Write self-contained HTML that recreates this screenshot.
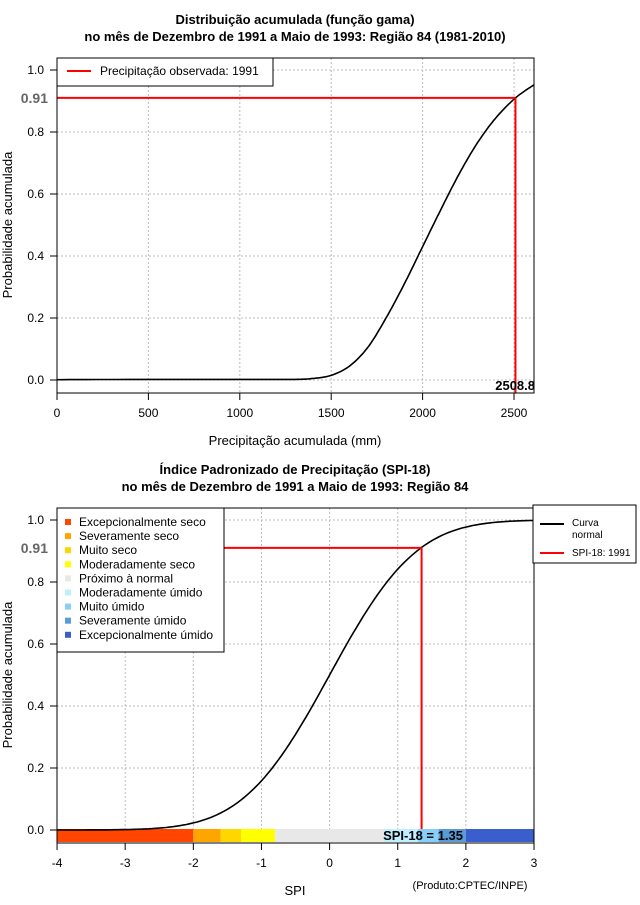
<!DOCTYPE html>
<html><head><meta charset="utf-8"><style>
body{margin:0;background:#fff}
svg text{font-family:"Liberation Sans",sans-serif;font-size:12px}
</style></head><body>
<svg id="s" width="640" height="900" xmlns="http://www.w3.org/2000/svg">
<rect width="640" height="900" fill="#fff"/>
<text x="295" y="24" text-anchor="middle" font-weight="bold" style="font-size:13px">Distribuição acumulada (função gama)</text>
<text x="295" y="41" text-anchor="middle" font-weight="bold" style="font-size:13px">no mês de Dezembro de 1991 a Maio de 1993: Região 84 (1981-2010)</text>
<text x="295" y="474" text-anchor="middle" font-weight="bold" style="font-size:13px">Índice Padronizado de Precipitação (SPI-18)</text>
<text x="295" y="491" text-anchor="middle" font-weight="bold" style="font-size:13px">no mês de Dezembro de 1991 a Maio de 1993: Região 84</text>
<g id="g"></g>
</svg>
<script>
var g=document.getElementById('g'),h='';
function L(x1,y1,x2,y2,c,w,d){h+='<line x1="'+x1+'" y1="'+y1+'" x2="'+x2+'" y2="'+y2+'" stroke="'+c+'" stroke-width="'+(w||1)+'"'+(d?' stroke-dasharray="'+d+'"':'')+'/>';}
function T(x,y,t,a,extra){h+='<text x="'+x+'" y="'+y+'" text-anchor="'+(a||'start')+'" '+(extra||'')+'>'+t+'</text>';}
// TOP
var X=function(m){return 57+m*0.1828},Y=function(p){return 380-p*310};
[500,1000,1500,2000,2500].forEach(function(m){L(X(m),58,X(m),393,'#bbb',1,'2,2')});
[0,0.2,0.4,0.6,0.8,1].forEach(function(p){L(57,Y(p),534,Y(p),'#bbb',1,'2,2')});
L(57,58,57,393,'#000',1,'1,1');
var pts=[[0,0.001],[500,0.002],[1000,0.002],[1300,0.002],[1400,0.005],[1500,0.015],[1600,0.045],[1700,0.105],[1800,0.2],[1900,0.31],[2000,0.43],[2100,0.55],[2200,0.665],[2300,0.765],[2400,0.845],[2508,0.91],[2609,0.952]];
var d='';
for(var i=0;i<pts.length-1;i++){var p0=pts[Math.max(i-1,0)],p1=pts[i],p2=pts[i+1],p3=pts[Math.min(i+2,pts.length-1)];
 for(var k=0;k<10;k++){var t=k/10,t2=t*t,t3=t2*t;
  var f=function(a,b,c,e){return 0.5*((2*b)+(-a+c)*t+(2*a-5*b+4*c-e)*t2+(-a+3*b-3*c+e)*t3)};
  var x=f(p0[0],p1[0],p2[0],p3[0]),y=f(p0[1],p1[1],p2[1],p3[1]);
  d+=(d?'L':'M')+X(x).toFixed(1)+','+Y(y).toFixed(1);}}
d+='L'+X(2609).toFixed(1)+','+Y(0.952).toFixed(1);
h+='<path d="'+d+'" fill="none" stroke="#000" stroke-width="1.6" stroke-linejoin="round"/>';
L(57,Y(0.91),X(2508),Y(0.91),'red',2);L(X(2508),Y(0.91),X(2508),393,'red',2);
h+='<rect x="57" y="58" width="477" height="335" fill="none" stroke="#000"/>';
h+='<rect x="57" y="58" width="216" height="28" fill="#fff" stroke="#000"/>';
L(67,71,91,71,'red',2);T(100,75,'Precipitação observada: 1991');
T(535,390,'2508.8','end','font-weight="bold" style="font-size:13px"');
[0,0.2,0.4,0.6,0.8,1].forEach(function(p){L(50,Y(p),57,Y(p),'#000');T(44,Y(p)+4,p.toFixed(1),'end')});
T(48,Y(0.91)+5,'0.91','end','fill="#666" font-weight="bold" style="font-size:14px"');
[0,500,1000,1500,2000,2500].forEach(function(m){L(X(m),393,X(m),400,'#000');T(X(m),417,m,'middle')});
T(295,445,'Precipitação acumulada (mm)','middle','style="font-size:13px"');
T(12,225,'Probabilidade acumulada','middle','transform="rotate(-90 12 225)" style="font-size:13px"');
// BOTTOM
var S=function(z){return 329.6+z*68.14},Q=function(p){return 830-p*310};
[-3,-2,-1,0,1,2,3].forEach(function(z){L(S(z),508,S(z),843,'#bbb',1,'2,2')});
[0,0.2,0.4,0.6,0.8,1].forEach(function(p){L(57,Q(p),534,Q(p),'#bbb',1,'2,2')});
var bands=[[-4,-2,'#ff4500'],[-2,-1.6,'#ffa500'],[-1.6,-1.3,'#ffd700'],[-1.3,-0.8,'#ffff00'],[-0.8,0.8,'#e8e8e8'],[0.8,1.3,'#bfefff'],[1.3,1.6,'#87cefa'],[1.6,2,'#5b9bd5'],[2,3,'#3a5fcd']];
bands.forEach(function(b){h+='<rect x="'+S(b[0])+'" y="829" width="'+(S(b[1])-S(b[0]))+'" height="13" fill="'+b[2]+'"/>'});
function erf(x){var t=1/(1+0.3275911*Math.abs(x));var y=1-(((((1.061405429*t-1.453152027)*t)+1.421413741)*t-0.284496736)*t+0.254829592)*t*Math.exp(-x*x);return x>=0?y:-y}
d='';for(var z=-4;z<=3.001;z+=0.05){var p=0.5*(1+erf(z/Math.SQRT2));d+=(z>-4?'L':'M')+S(z).toFixed(1)+','+Q(p).toFixed(1)}
h+='<path d="'+d+'" fill="none" stroke="#000" stroke-width="1.6"/>';
L(57,Q(0.91),S(1.35),Q(0.91),'red',2);L(S(1.35),Q(0.91),S(1.35),829,'red',2);
T(423,840,'SPI-18 = 1.35','middle','font-weight="bold" style="font-size:13px"');
h+='<rect x="57" y="508" width="477" height="335" fill="none" stroke="#000"/>';
h+='<rect x="57" y="508" width="167" height="144" fill="#fff" stroke="#000"/>';
var lab=['Excepcionalmente seco','Severamente seco','Muito seco','Moderadamente seco','Próximo à normal','Moderadamente úmido','Muito úmido','Severamente úmido','Excepcionalmente úmido'];
var lc=['#ff4500','#ffa500','#ffd700','#ffff00','#e8e8e8','#bfefff','#87cefa','#5b9bd5','#3a5fcd'];
lab.forEach(function(t,i){var y=522+i*14.1;h+='<rect x="65" y="'+(y-3)+'" width="6" height="6" fill="'+lc[i]+'"/>';T(79,y+4,t)});
h+='<rect x="533" y="505" width="103" height="58" fill="#fff" stroke="#000"/>';
L(540,524,564,524,'#000',2);T(572,526,'Curva','start','style="font-size:10px"');T(572,538,'normal','start','style="font-size:10px"');
L(540,553,564,553,'red',2);T(572,556,'SPI-18: 1991','start','style="font-size:10px"');
[0,0.2,0.4,0.6,0.8,1].forEach(function(p){L(50,Q(p),57,Q(p),'#000');T(44,Q(p)+4,p.toFixed(1),'end')});
T(48,Q(0.91)+5,'0.91','end','fill="#666" font-weight="bold" style="font-size:14px"');
[-4,-3,-2,-1,0,1,2,3].forEach(function(z){L(S(z),843,S(z),850,'#000');T(S(z),867,z,'middle')});
T(295,895,'SPI','middle','style="font-size:13px"');
T(470,889,'(Produto:CPTEC/INPE)','middle','style="font-size:11px"');
T(12,675,'Probabilidade acumulada','middle','transform="rotate(-90 12 675)" style="font-size:13px"');
g.innerHTML=h;
</script>
</body></html>
